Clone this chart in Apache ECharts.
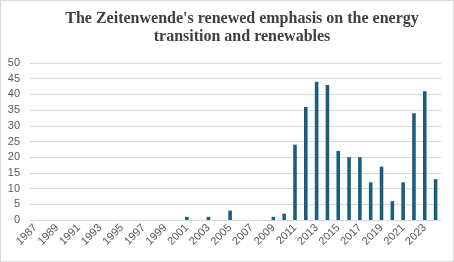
<!DOCTYPE html>
<html><head><meta charset="utf-8">
<script src="https://cdn.jsdelivr.net/npm/echarts@6/dist/echarts.min.js"></script>
<style>html,body{margin:0;padding:0;background:#fff}#c{width:454px;height:262px;box-sizing:border-box;border:1px solid #d9d9d9}</style>
</head><body><div id="c"></div>
<script>
const years = [];
for (let y = 1987; y <= 2024; y++) years.push(String(y));
const values = [0,0,0,0,0,0,0,0,0,0,0,0,0,0,1,0,1,0,3,0,0,0,1,2,24,36,44,43,22,20,20,12,17,6,12,34,41,13];
const yTicks = {min:0, max:50, interval:5};
const title = "The Zeitenwende's renewed emphasis on the energy\ntransition and renewables";

const chart = echarts.init(document.getElementById('c'));
chart.setOption({
  animation:false,
  title:{text:title,left:236,top:4,textAlign:'center',
    textStyle:{fontFamily:'Liberation Serif',fontWeight:'bold',fontSize:16,color:'#404040',lineHeight:18}},
  grid:{left:29,right:12,top:62,bottom:41},
  xAxis:{type:'category',data:years,
    axisLine:{lineStyle:{color:'#d9d9d9'}},axisTick:{show:false},
    axisLabel:{interval:1,rotate:45,fontFamily:'Liberation Sans',fontSize:11,color:'#595959',margin:6}},
  yAxis:{type:'value',min:yTicks.min,max:yTicks.max,interval:yTicks.interval,
    axisLine:{show:false},axisTick:{show:false},
    splitLine:{lineStyle:{color:'#d9d9d9'}},
    axisLabel:{fontFamily:'Liberation Sans',fontSize:11,color:'#595959',margin:10}},
  series:[{type:'bar',data:values,barWidth:'33%',itemStyle:{color:'#1d5c7c'}}]
});
</script></body></html>
